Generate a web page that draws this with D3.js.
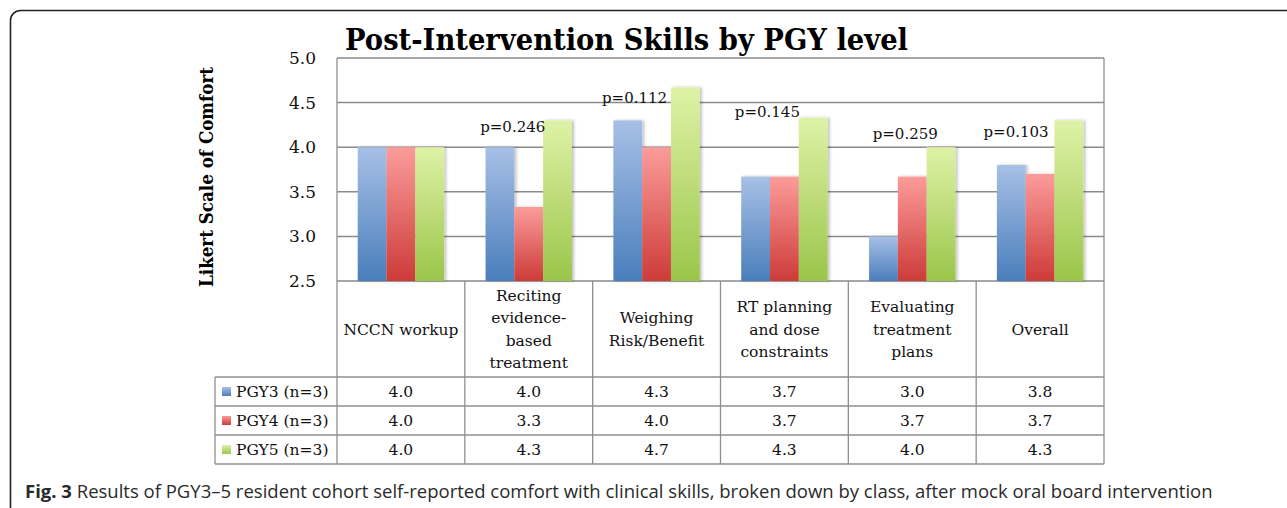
<!DOCTYPE html>
<html>
<head>
<meta charset="utf-8">
<script src="https://cdn.jsdelivr.net/npm/d3@7"></script>
<style>
  body { margin: 0; background: #fff; }
  svg { display: block; }
</style>
</head>
<body>
<script>
// chart data
var categories = ["NCCN workup", "Reciting\nevidence-\nbased\ntreatment", "Weighing\nRisk/Benefit",
                  "RT planning\nand dose\nconstraints", "Evaluating\ntreatment\nplans", "Overall"];
var seriesNames = ["PGY3 (n=3)", "PGY4 (n=3)", "PGY5 (n=3)"];
var pgy3 = [4.0, 4.0, 4.3, 3.67, 3.0, 3.8];
var pgy4 = [4.0, 3.33, 4.0, 3.67, 3.67, 3.7];
var pgy5 = [4.0, 4.3, 4.67, 4.33, 4.0, 4.3];
var pValues = [null, "p=0.246", "p=0.112", "p=0.145", "p=0.259", "p=0.103"];
var yTicks = [2.5, 3.0, 3.5, 4.0, 4.5, 5.0];

// p label anchors (value units) and x shift from group centre
var pLabelAt = [null, 4.17, 4.50, 4.34, 4.09, 4.11];
var pLabelDx = [0, -16, -22, -17, -7, -24];

var W = 1287, H = 508;
var plot = {left: 337, right: 1104, top: 58, bottom: 281};
var rowH = [96, 29, 29, 29];
var legendLeft = 215;
var serif = "'DejaVu Serif', serif";

var colors = [
    {top: "#a7c0e6", bottom: "#4a7ebb"},
    {top: "#fb9c9a", bottom: "#cd3b39"},
    {top: "#def2a6", bottom: "#9bc54a"}
];

var series = [pgy3, pgy4, pgy5];

var svg = d3.select("body")
    .append('svg')
    .attr('width', W)
    .attr('height', H);

var defs = svg.append('defs');
colors.forEach(function (c, i) {
    var g = defs.append('linearGradient')
        .attr('id', 'grad' + i)
        .attr('x1', 0).attr('y1', 0).attr('x2', 0).attr('y2', 1);
    g.append('stop').attr('offset', '0%').attr('stop-color', c.top);
    g.append('stop').attr('offset', '100%').attr('stop-color', c.bottom);
});
var shadow = defs.append('filter').attr('id', 'shadow')
    .attr('x', '-10%').attr('y', '-10%').attr('width', '130%').attr('height', '120%');
shadow.append('feDropShadow')
    .attr('dx', 2).attr('dy', 0).attr('stdDeviation', 1.5)
    .attr('flood-color', '#000').attr('flood-opacity', 0.25);

//outer frame (rounded, runs off the right and bottom)
svg.append('rect')
    .attr('x', 10.5).attr('y', 10.5)
    .attr('width', W + 20).attr('height', H + 20)
    .attr('rx', 10)
    .style('fill', 'none')
    .style('stroke', '#222')
    .style('stroke-width', 1.6);

//scales
var x = d3.scaleBand()
    .domain(categories)
    .range([plot.left, plot.right])
    .padding(0);

var xs = d3.scaleBand()
    .domain(d3.range(seriesNames.length))
    .range([0, x.bandwidth()])
    .paddingInner(0)
    .paddingOuter(0.72);

var y = d3.scaleLinear()
    .domain([2.5, 5.0])
    .range([plot.bottom, plot.top]);

//gridlines
svg.append('g')
    .selectAll('line')
    .data(yTicks)
    .enter().append('line')
    .attr('x1', plot.left).attr('x2', plot.right)
    .attr('y1', function (d) { return y(d); })
    .attr('y2', function (d) { return y(d); })
    .style('stroke', '#8a8a8a')
    .style('stroke-width', 1.5);

//y axis tick labels
var yAxis = d3.axisLeft(y)
    .tickValues(yTicks)
    .tickFormat(d3.format('.1f'))
    .tickSize(0)
    .tickPadding(21);

var yAxisG = svg.append('g')
    .attr('transform', 'translate(' + plot.left + ',0)')
    .call(yAxis);
yAxisG.select('.domain').remove();
yAxisG.selectAll('text')
    .style('font-family', serif)
    .style('font-size', '17px')
    .style('fill', '#111');

//bars
var groups = svg.append('g')
    .selectAll('g')
    .data(categories)
    .enter().append('g')
    .attr('transform', function (d) { return 'translate(' + x(d) + ',0)'; })
    .style('filter', 'url(#shadow)');

groups.selectAll('rect')
    .data(function (d, ci) {
        return series.map(function (s, si) { return {si: si, v: s[ci]}; });
    })
    .enter().append('rect')
    .attr('x', function (d) { return xs(d.si); })
    .attr('width', xs.bandwidth())
    .attr('y', function (d) { return y(d.v); })
    .attr('height', function (d) { return y(2.5) - y(d.v); })
    .style('fill', function (d) { return 'url(#grad' + d.si + ')'; });

//p-value labels
svg.append('g')
    .selectAll('text')
    .data(categories)
    .enter().filter(function (d, i) { return pValues[i] !== null; })
    .append('text')
    .attr('x', function (d) {
        var i = categories.indexOf(d);
        return x(d) + x.bandwidth() / 2 + pLabelDx[i];
    })
    .attr('y', function (d) { return y(pLabelAt[categories.indexOf(d)]); })
    .attr('text-anchor', 'middle')
    .text(function (d) { return pValues[categories.indexOf(d)]; })
    .style('font-family', serif)
    .style('font-size', '15px')
    .style('fill', '#111');

//data table
var tableTop = plot.bottom;
var rowY = [tableTop];
rowH.forEach(function (h, i) { rowY.push(rowY[i] + h); });
var tableBottom = rowY[rowY.length - 1];
var lineStyle = {stroke: '#8f8f8f', width: 1.3};

var table = svg.append('g');

//horizontal lines
table.selectAll('line.h')
    .data(rowY.slice(1))
    .enter().append('line')
    .attr('class', 'h')
    .attr('x1', legendLeft)
    .attr('x2', plot.right)
    .attr('y1', function (d) { return d; })
    .attr('y2', function (d) { return d; })
    .style('stroke', lineStyle.stroke)
    .style('stroke-width', lineStyle.width);

//vertical lines
var colX = categories.map(function (c) { return x(c); }).concat([plot.right]);
table.selectAll('line.v')
    .data(colX)
    .enter().append('line')
    .attr('class', 'v')
    .attr('x1', function (d) { return d; })
    .attr('x2', function (d) { return d; })
    .attr('y1', function (d, i) { return i === 0 || i === colX.length - 1 ? plot.top : tableTop; })
    .attr('y2', tableBottom)
    .style('stroke', lineStyle.stroke)
    .style('stroke-width', lineStyle.width);

table.append('line')
    .attr('x1', legendLeft).attr('x2', legendLeft)
    .attr('y1', rowY[1]).attr('y2', tableBottom)
    .style('stroke', lineStyle.stroke)
    .style('stroke-width', lineStyle.width);

//category headers
var lineGap = 22.5;
table.selectAll('text.cat')
    .data(categories)
    .enter().append('text')
    .attr('class', 'cat')
    .attr('text-anchor', 'middle')
    .style('font-family', serif)
    .style('font-size', '15.5px')
    .style('fill', '#111')
    .each(function (d) {
        var lines = d.split('\n');
        var cy = tableTop + rowH[0] / 2;
        var first = cy - (lines.length - 1) * lineGap / 2 + 5.5;
        var t = d3.select(this);
        lines.forEach(function (ln, k) {
            t.append('tspan')
                .attr('x', x(d) + x.bandwidth() / 2)
                .attr('y', first + k * lineGap)
                .text(ln);
        });
    });

//rows: legend + values
series.forEach(function (s, si) {
    var cy = (rowY[si + 1] + rowY[si + 2]) / 2;

    table.append('rect')
        .attr('x', 222).attr('y', cy - 4.5)
        .attr('width', 9).attr('height', 9)
        .style('fill', 'url(#grad' + si + ')');

    table.append('text')
        .attr('x', 236).attr('y', cy + 5.5)
        .text(seriesNames[si])
        .style('font-family', serif)
        .style('font-size', '15.5px')
        .style('fill', '#111');

    table.selectAll('text.v' + si)
        .data(s)
        .enter().append('text')
        .attr('class', 'v' + si)
        .attr('x', function (d, ci) { return x(categories[ci]) + x.bandwidth() / 2; })
        .attr('y', cy + 5.5)
        .attr('text-anchor', 'middle')
        .text(function (d) { return d.toFixed(1); })
        .style('font-family', serif)
        .style('font-size', '15.5px')
        .style('fill', '#111');
});

//title
svg.append('text')
    .attr('x', 345).attr('y', 50)
    .attr('textLength', 563)
    .attr('lengthAdjust', 'spacingAndGlyphs')
    .text('Post-Intervention Skills by PGY level')
    .style('font-family', serif)
    .style('font-weight', 'bold')
    .style('font-size', '29px')
    .style('fill', '#000');

//y axis title
svg.append('text')
    .attr('transform', 'translate(213,177) rotate(-90)')
    .attr('text-anchor', 'middle')
    .attr('textLength', 220)
    .attr('lengthAdjust', 'spacingAndGlyphs')
    .text('Likert Scale of Comfort')
    .style('font-family', serif)
    .style('font-weight', 'bold')
    .style('font-size', '18px')
    .style('fill', '#000');

//caption
var caption = svg.append('text')
    .attr('x', 25).attr('y', 498)
    .style('font-family', "'Open Sans', sans-serif")
    .style('font-size', '18.5px')
    .style('fill', '#2a2a2a');
caption.append('tspan').style('font-weight', 'bold').text('Fig. 3');
caption.append('tspan').text(' Results of PGY3\u20135 resident cohort self-reported comfort with clinical skills, broken down by class, after mock oral board intervention');
</script>
</body>
</html>
